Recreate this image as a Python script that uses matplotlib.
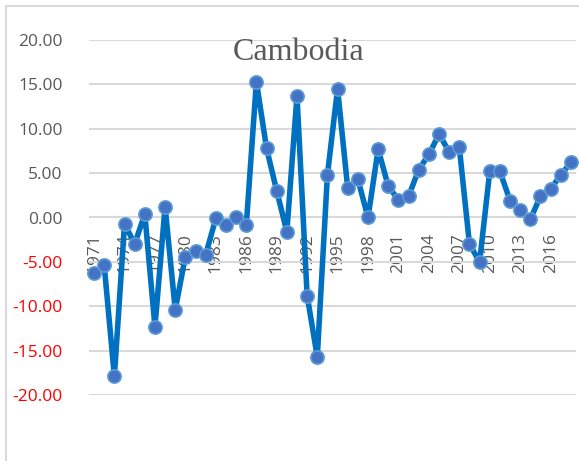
import matplotlib
matplotlib.use("Agg")
import matplotlib.pyplot as plt
from matplotlib.patches import Rectangle

years = list(range(1971, 2019))
values = [-6.3, -5.4, -17.9, -0.7, -3.0, 0.4, -12.3, 1.2, -10.4, -4.4,
          -3.8, -4.2, -0.1, -0.9, 0.0, -0.9, 15.3, 7.8, 3.0, -1.6,
          13.7, -8.8, -15.7, 4.8, 14.5, 3.3, 4.3, 0.0, 7.7, 3.5,
          2.0, 2.4, 5.4, 7.1, 9.4, 7.4, 7.9, -3.0, -5.0, 5.2,
          5.2, 1.9, 0.8, -0.2, 2.4, 3.2, 4.8, 6.2]
yticks = [20, 15, 10, 5, 0, -5, -10, -15, -20]
xtick_years = list(range(1971, 2019, 3))
title = "Cambodia"

W, H = 579, 461
fig = plt.figure(figsize=(W / 100, H / 100), dpi=100)
fig.patch.set_facecolor("white")

# outer chart border
fig.patches.append(Rectangle((6 / W, -0.1), 1.2, 1 - 6 / H + 0.1, transform=fig.transFigure,
                             fill=False, edgecolor="#d9d9d9", linewidth=1.5))

ax = fig.add_axes([89 / W, 1 - 395 / H, (576 - 89) / W, (395 - 40) / H])
ax.set_xlim(-0.5, len(years) - 0.5)
ax.set_ylim(-20, 20)

ax.set_yticks(yticks)
ax.set_yticklabels([f"{v:.2f}" for v in yticks], fontfamily="Open Sans", fontsize=12.5)
for lbl, v in zip(ax.get_yticklabels(), yticks):
    lbl.set_color("#ff0000" if v < 0 else "#595959")
ax.tick_params(axis="y", length=0, pad=19)
ax.grid(axis="y", color="#d9d9d9", linewidth=1.5)
ax.set_axisbelow(True)
for s in ax.spines.values():
    s.set_visible(False)

xpos = [years.index(y) for y in xtick_years]
ax.spines["bottom"].set_position(("data", 0))
ax.set_xticks(xpos)
ax.set_xticklabels([str(y) for y in xtick_years], rotation=90, fontfamily="Open Sans",
                   fontsize=12.5, color="#595959")
ax.tick_params(axis="x", length=0, pad=11)

x = list(range(len(years)))
ax.plot(x, values, color="#0070c0", linewidth=4.0, marker="o", markersize=9.5,
        markerfacecolor="#4472c4", markeredgecolor="#5b9bd5", markeredgewidth=1.2,
        solid_joinstyle="round", zorder=3, clip_on=False)

fig.text(298.5 / W, 1 - 52 / H, title, ha="center", va="center",
         fontfamily="Liberation Serif", fontsize=23, color="#595959")

fig.savefig("out.png", dpi=100)
